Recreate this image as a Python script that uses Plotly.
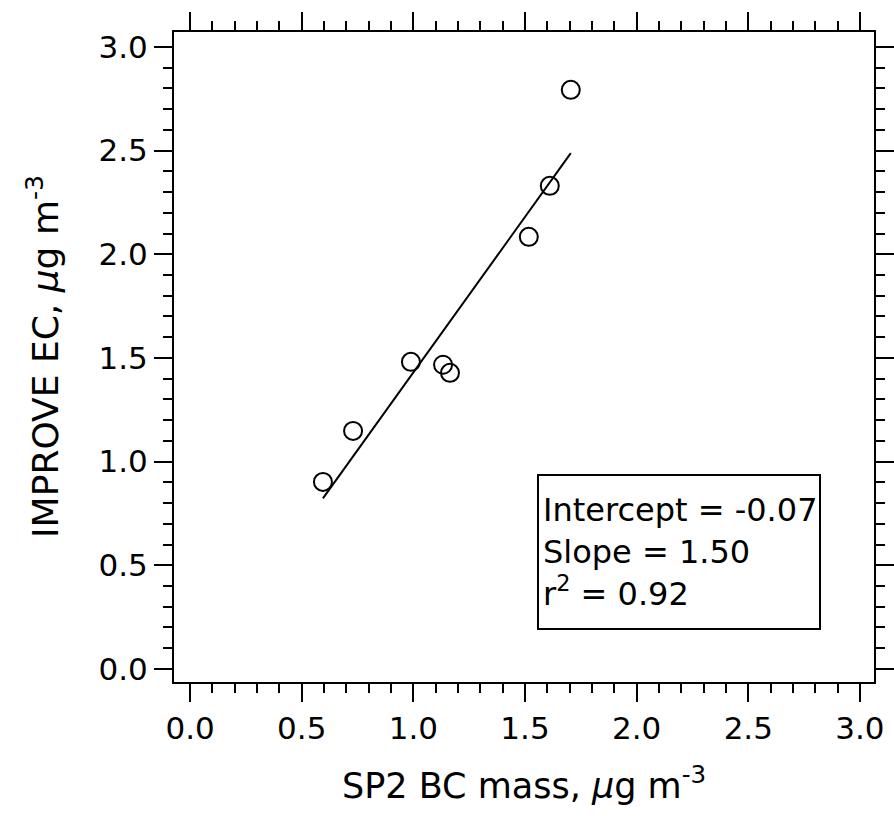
import numpy as np
import plotly.graph_objects as go

# SP2 BC mass vs IMPROVE EC (ug m-3)
sp2_bc = [0.595, 0.730, 0.989, 1.133, 1.164, 1.517, 1.611, 1.705]
improve_ec = [0.902, 1.148, 1.481, 1.467, 1.428, 2.084, 2.330, 2.793]

intercept = -0.07
slope = 1.50
r2 = 0.92

x_range = [-0.072, 3.063]
y_range = [-0.063, 3.072]

FONT = "DejaVu Sans"

x_fit = np.array([min(sp2_bc), max(sp2_bc)])
y_fit = intercept + slope * x_fit

fig = go.Figure()
fig.add_trace(go.Scatter(x=x_fit, y=y_fit, mode="lines",
                         line=dict(color="black", width=2), showlegend=False))
fig.add_trace(go.Scatter(x=sp2_bc, y=improve_ec, mode="markers",
                         marker=dict(symbol="circle-open", size=18, color="black",
                                     line=dict(width=2, color="black")),
                         showlegend=False))

axis_style = dict(
    showline=True, linewidth=2, linecolor="black", mirror="ticks",
    ticks="outside", ticklen=18, tickwidth=2, tickcolor="black",
    tick0=0, dtick=0.5, tickformat=".1f",
    showgrid=False, zeroline=False, automargin=False,
    tickfont=dict(family=FONT, size=31, color="black"),
    minor=dict(ticks="outside", ticklen=9, tickwidth=2, tickcolor="black",
               tick0=0, dtick=0.1, showgrid=False),
)
fig.update_xaxes(range=x_range, **axis_style)
fig.update_yaxes(range=y_range, **axis_style)

fig.add_annotation(
    text="SP2 BC mass, <i>μ</i>g m<sup>-3</sup>",
    xref="paper", yref="paper", x=0.5, y=0, xanchor="center", yanchor="middle",
    yshift=-101, showarrow=False, font=dict(family=FONT, size=35, color="black"),
)
fig.add_annotation(
    text="IMPROVE EC, <i>μ</i>g m<sup>-3</sup>",
    xref="paper", yref="paper", x=0, y=0.5, xanchor="center", yanchor="middle",
    xshift=-131, textangle=-90, showarrow=False,
    font=dict(family=FONT, size=36, color="black"),
)
fig.add_annotation(
    text=(f"Intercept = {intercept:.2f}<br>Slope = {slope:.2f}"
          f"<br>r<sup>2</sup> = {r2:.2f}"),
    xref="paper", yref="paper", x=0.5186, y=0.32, xanchor="left", yanchor="top",
    align="left", valign="middle", width=272, height=144,
    showarrow=False, bordercolor="black", borderwidth=2, borderpad=4,
    bgcolor="white", font=dict(family=FONT, size=32, color="black"),
)

fig.update_layout(
    width=894, height=816, autosize=False,
    margin=dict(l=174, r=20, t=32, b=134, autoexpand=False),
    plot_bgcolor="white", paper_bgcolor="white",
)

fig.write_html(
    "out.html",
    config={"displayModeBar": False, "responsive": False},
    post_script="document.body.style.margin='0';document.body.style.overflow='hidden';",
)
